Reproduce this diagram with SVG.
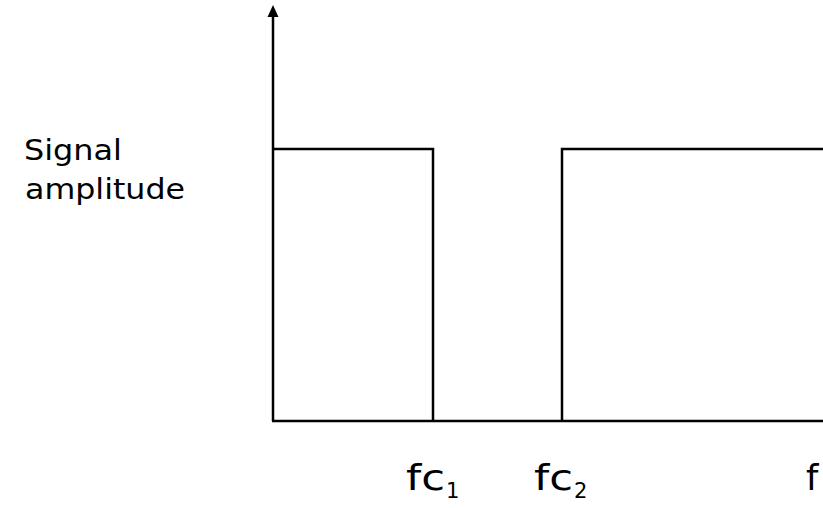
<svg xmlns="http://www.w3.org/2000/svg" width="823" height="508" viewBox="0 0 823 508">
<style>
.ln{stroke:#000;stroke-width:2.5;fill:none}
.t{font-family:"DejaVu Sans","Noto Sans",sans-serif;fill:#000}
.lab{font-size:29px}
.fq{font-size:35px}
.sub{font-size:21px}
</style>
<rect width="823" height="508" fill="#fff"/>
<g id="connectors">
<line class="ln" x1="273" y1="421" x2="273" y2="16"/>
<path d="M273 5 L278.5 17 L267.5 17 Z" fill="#000"/>
<line class="ln" x1="272" y1="421" x2="823" y2="421"/>
<polyline class="ln" points="273,149 433,149 433,421"/>
<polyline class="ln" points="562,421 562,149 823,149"/>
</g>
<g id="ylabel">
<text class="t lab" x="24" y="160" textLength="98" lengthAdjust="spacingAndGlyphs">Signal</text>
<text class="t lab" x="25" y="199" textLength="160" lengthAdjust="spacingAndGlyphs">amplitude</text>
</g>
<g id="fc1">
<text class="t fq" x="406" y="490"><tspan textLength="39" lengthAdjust="spacingAndGlyphs">fc</tspan><tspan class="sub" x="446" y="498">1</tspan></text>
</g>
<g id="fc2">
<text class="t fq" x="534" y="490"><tspan textLength="39" lengthAdjust="spacingAndGlyphs">fc</tspan><tspan class="sub" x="574" y="498">2</tspan></text>
</g>
<g id="f">
<text class="t fq" x="806" y="490">f</text>
</g>
</svg>
